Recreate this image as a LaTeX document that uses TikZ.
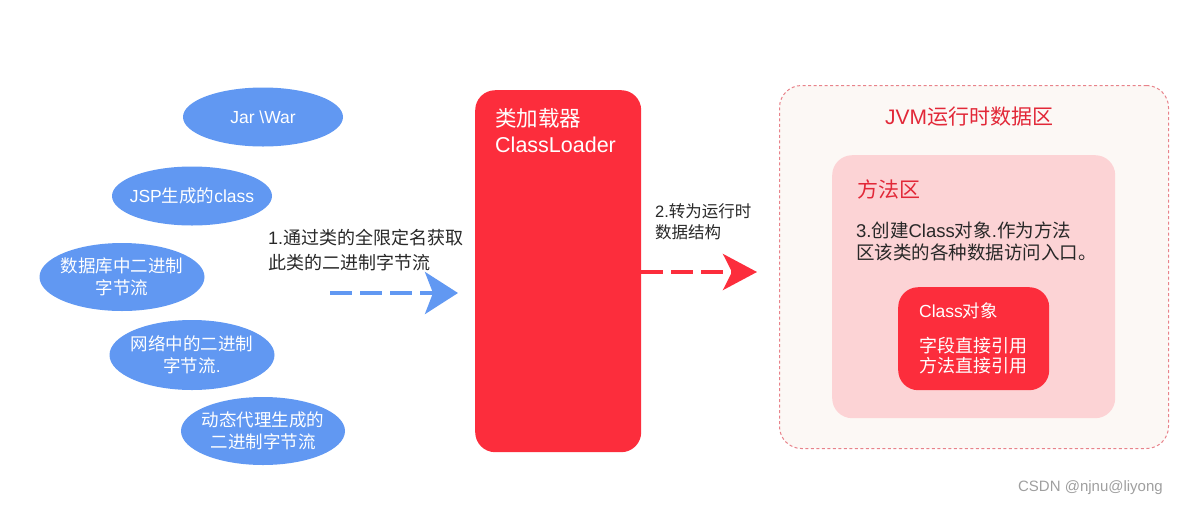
\documentclass[tikz,border=0pt]{standalone}
\usepackage{fontspec}
\setmainfont{Liberation Sans}
\newfontfamily\cjk{Noto Sans CJK SC}
\newcommand{\zh}[1]{{\cjk #1}}
\usetikzlibrary{shapes.geometric,arrows.meta}
\definecolor{eblue}{RGB}{97,152,242}
\definecolor{cred}{RGB}{252,45,60}
\definecolor{jvmbg}{RGB}{252,248,245}
\definecolor{jvmborder}{RGB}{232,130,138}
\definecolor{mpink}{RGB}{252,211,213}
\definecolor{titlered}{RGB}{226,40,56}
\definecolor{txt}{RGB}{40,40,40}
\tikzset{
  src/.style={ellipse, fill=eblue, draw=none, text=white, align=center,
    font=\fontsize{17.5}{22}\selectfont, inner xsep=-10pt, inner ysep=0pt},
  lbl/.style={text=txt, align=left, anchor=north west, inner sep=0pt},
  flow/.style={line width=4pt, dash pattern=on 22pt off 8pt},
}
\begin{document}
\begin{tikzpicture}[x=1pt,y=-1pt]
\useasboundingbox (0,0) rectangle (1178,507);
% source ellipses
\node[src, minimum width=160pt, minimum height=59pt] (e1) at (263,117) {Jar \textbackslash War};
\node[src, minimum width=160pt, minimum height=59pt] (e2) at (192,196) {JSP\zh{生成的}class};
\node[src, minimum width=165pt, minimum height=68pt] (e3) at (122,277) {\zh{数据库中二进制}\\\zh{字节流}};
\node[src, minimum width=165pt, minimum height=70pt] (e4) at (192,355) {\zh{网络中的二进制}\\\zh{字节流}.};
\node[src, minimum width=164pt, minimum height=68pt] (e5) at (263,431) {\zh{动态代理生成的}\\\zh{二进制字节流}};
% label 1
\node[lbl, font=\fontsize{18}{25}\selectfont] (l1) at (268,229) {1.\zh{通过类的全限定名获取}\\\zh{此类的二进制字节流}};
% class loader
\node[fill=cred, rounded corners=20pt, minimum width=166pt, minimum height=362pt, anchor=north west, inner sep=0pt] (cl) at (475,90) {};
\node[text=white, align=left, anchor=north west, inner sep=0pt, font=\fontsize{21.5}{26}\selectfont] (clt) at (495,108) {\zh{类加载器}\\ClassLoader};
% arrow 1
\coordinate (a1s) at (330,293);
\draw[flow, draw=eblue, -{Stealth[length=33pt,width=42pt,inset=8pt]}, shorten >=17pt] (a1s) -- (a1s -| cl.west);
% JVM area
\node[fill=jvmbg, draw=jvmborder, line width=1pt, dash pattern=on 3pt off 2.5pt, rounded corners=22pt, minimum width=389pt, minimum height=363pt, anchor=north west, inner sep=0pt] (jvm) at (779,85) {};
\node[text=titlered, anchor=west, font=\fontsize{21}{26}\selectfont, inner sep=0pt] (jvmt) at (885,117) {JVM\zh{运行时数据区}};
% arrow 2
\node[lbl, font=\fontsize{16.5}{21}\selectfont] (l2) at (655,203) {2.\zh{转为运行时}\\\zh{数据结构}};
\coordinate (a2s) at (cl.east |- 0,272);
\draw[flow, draw=cred, -{Stealth[length=34pt,width=36pt,inset=9pt]}, shorten >=22pt] (a2s) -- (a2s -| jvm.west);
% method area
\node[fill=mpink, rounded corners=20pt, minimum width=283pt, minimum height=263pt, anchor=north west, inner sep=0pt] (ma) at (832,155) {};
\node[text=titlered, anchor=west, inner sep=0pt, font=\fontsize{21}{26}\selectfont] (mat) at (857,189) {\zh{方法区}};
\node[lbl, font=\fontsize{18.5}{22}\selectfont] (l3) at (856,222) {3.\zh{创建}Class\zh{对象}.\zh{作为方法}\\\zh{区该类的各种数据访问入口。}};
% class object
\node[fill=cred, rounded corners=20pt, minimum width=151pt, minimum height=103pt, anchor=north west, inner sep=0pt] (co) at (898,287) {};
\node[text=white, anchor=west, inner sep=0pt, font=\fontsize{17.5}{21}\selectfont] (cot) at (919,311) {Class\zh{对象}};
\node[text=white, align=left, anchor=north west, inner sep=0pt, font=\fontsize{18}{20.5}\selectfont] (cob) at (919,337) {\zh{字段直接引用}\\\zh{方法直接引用}};
% watermark
\node[text=gray!75, anchor=east, inner sep=0pt, font=\fontsize{15}{17}\selectfont] (wm) at (1163,488) {CSDN @njnu@liyong};
\end{tikzpicture}
\end{document}
